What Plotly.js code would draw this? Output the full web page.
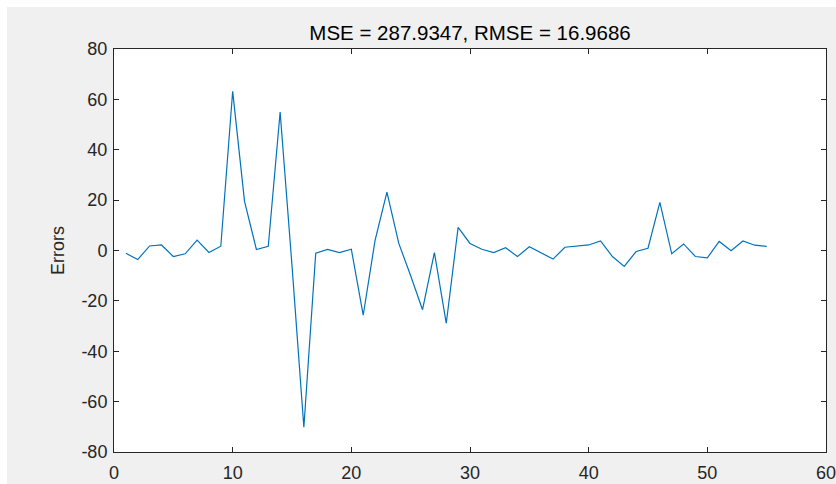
<!DOCTYPE html>
<html>
<head>
<meta charset="utf-8">
<script src="https://cdn.plot.ly/plotly-3.0.1.min.js"></script>
<style>html,body{margin:0;padding:0;background:#fff;}#chart{width:836px;height:484px;}</style>
</head>
<body>
<div id="chart"></div>
<script>
const sampleIndex = [1,2,3,4,5,6,7,8,9,10,11,12,13,14,15,16,17,18,19,20,21,22,23,24,25,26,27,28,29,30,31,32,33,34,35,36,37,38,39,40,41,42,43,44,45,46,47,48,49,50,51,52,53,54,55];
const errors = [-1.1,-3.6,1.8,2.2,-2.4,-1.3,4.1,-0.8,1.7,63.2,
  19.5,0.4,1.7,55.0,-6,-70.2,-1.1,0.4,-0.8,0.5,
  -25.7,4.0,23.2,2.8,-10,-23.5,-0.8,-28.9,9.2,2.8,
  0.5,-0.8,1.1,-2.4,1.5,-0.9,-3.4,1.3,1.8,2.2,
  3.8,-2.4,-6.3,-0.4,0.9,19.1,-1.3,2.6,-2.4,-2.9,
  3.6,-0.1,3.8,2.1,1.6];
const titleText = 'MSE = 287.9347, RMSE = 16.9686';
const yLabel = 'Errors';
const xTicks = [0,10,20,30,40,50,60];
const yTicks = [-80,-60,-40,-20,0,20,40,60,80];

const W = 836, H = 484, L = 114, R = 10, T = 49, B = 32;
const pw = W - L - R, ph = H - T - B;
const fontFam = 'Liberation Sans, Arial, Helvetica, sans-serif';
const axisCol = '#262626';

const axisCommon = {
  showline: true, linecolor: axisCol, linewidth: 1, mirror: 'ticks',
  ticks: 'inside', ticklen: 5, tickwidth: 1, tickcolor: axisCol,
  showgrid: false, zeroline: false, automargin: false,
  ticklabeloverflow: 'allow',
  tickfont: {family: fontFam, size: 18, color: axisCol}
};

const layout = {
  width: W, height: H,
  margin: {l: L, r: R, t: T, b: B, pad: 0},
  paper_bgcolor: '#f0f0f0', plot_bgcolor: '#ffffff',
  showlegend: false,
  title: {text: titleText, font: {family: fontFam, size: 20.5, color: '#000'},
          x: 0.5, xref: 'paper', xanchor: 'center', y: 1 - 33/H, yanchor: 'middle'},
  xaxis: Object.assign({}, axisCommon, {range: [0, 60], tickvals: xTicks, ticktext: xTicks.map(String),
    ticklabelstandoff: 4}),
  yaxis: Object.assign({}, axisCommon, {range: [-80, 80], tickvals: yTicks, ticktext: yTicks.map(String),
    ticklabelstandoff: 2,
    title: {text: yLabel, font: {family: fontFam, size: 18, color: axisCol}, standoff: 12}}),
  shapes: [
    {type: 'rect', xref: 'paper', yref: 'paper', x0: -L/pw, x1: (7-L)/pw, y0: -B/ph, y1: (ph+T)/ph,
     fillcolor: '#ffffff', line: {width: 0}, layer: 'above'},
    {type: 'rect', xref: 'paper', yref: 'paper', x0: -L/pw, x1: (pw+R)/pw, y0: (ph+T-7)/ph, y1: (ph+T)/ph,
     fillcolor: '#ffffff', line: {width: 0}, layer: 'above'}
  ]
};

const data = [{
  type: 'scatter', mode: 'lines', x: sampleIndex, y: errors,
  line: {color: '#0072BD', width: 1.2}, hoverinfo: 'skip'
}];

Plotly.newPlot('chart', data, layout, {displayModeBar: false, staticPlot: true});
</script>
</body>
</html>
